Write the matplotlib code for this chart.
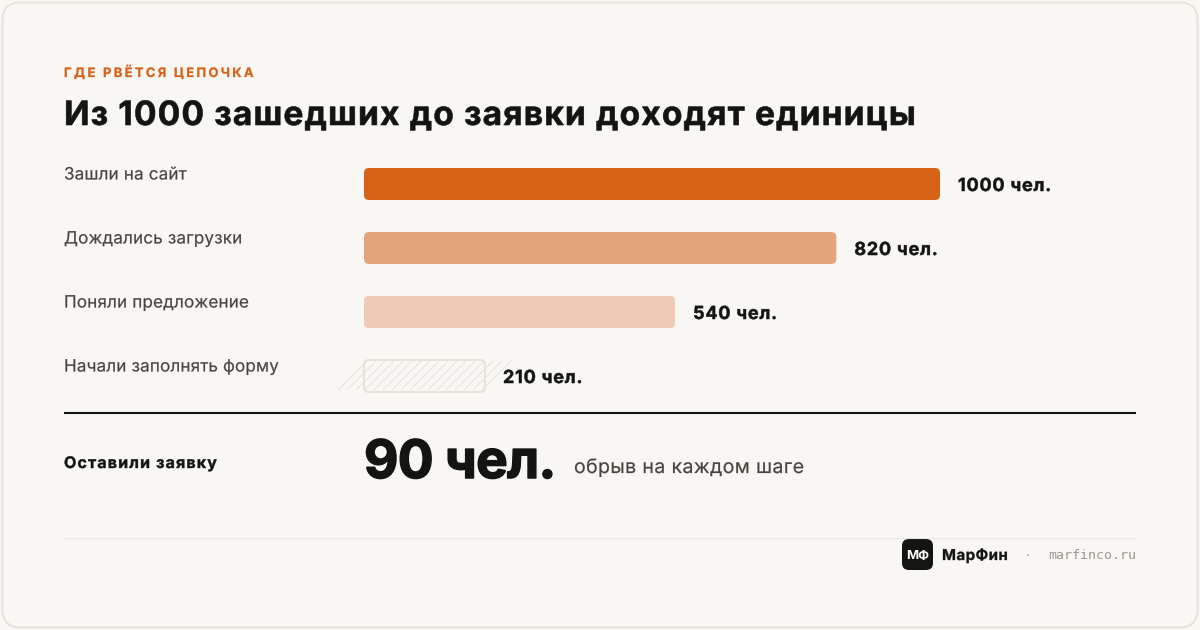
import matplotlib
matplotlib.use("Agg")
import matplotlib.pyplot as plt
from matplotlib.patches import FancyBboxPatch
from matplotlib.text import Text
from matplotlib.textpath import TextPath
from matplotlib.transforms import Affine2D, Bbox
from matplotlib.font_manager import findfont, get_font
from matplotlib.ft2font import LoadFlags

stages = ["Зашли на сайт", "Дождались загрузки", "Поняли предложение", "Начали заполнять форму"]
values = [1000, 820, 540, 210]
unit = "чел."
final_label = "Оставили заявку"
final_value = 90
final_note = "обрыв на каждом шаге"
eyebrow = "ГДЕ РВЁТСЯ ЦЕПОЧКА"
title = "Из 1000 зашедших до заявки доходят единицы"
brand_mark, brand, site = "МФ", "МарФин", "marfinco.ru"

BG, BORDER = "#F9F7F3", "#E6E4D8"
INK, MUTED = "#141410", "#45443E"
ORANGE = "#D66218"
bar_colors = ["#D66218", "#E5A57C", "#EFCBB6", "none"]
FONT = "Inter"
W, H = 1200, 630


class SpacedText(Text):
    """One text artist with tracking (px) and optional emboldening (px)."""
    tracking = 0.0
    embolden = 0.0

    def _advances(self, dpi):
        fp = self.get_fontproperties()
        font = get_font(findfont(fp))
        font.set_size(fp.get_size_in_points(), 72)
        out = []
        for ch in self.get_text():
            g = font.load_char(ord(ch), flags=LoadFlags.NO_HINTING)
            out.append(g.linearHoriAdvance / 65536 * dpi / 72 + self.tracking)
        return out

    def draw(self, renderer):
        fp = self.get_fontproperties()
        dpi = self.figure.dpi
        gc = renderer.new_gc()
        gc.set_foreground(self.get_color())
        gc.set_antialiased(True)
        gc.set_snap(False)
        gc.set_linewidth(self.embolden * 72 / dpi)
        gc.set_joinstyle("round")
        x, y = self.get_transform().transform(self.get_position())
        rgb = matplotlib.colors.to_rgb(self.get_color())
        for ch, adv in zip(self.get_text(), self._advances(dpi)):
            if ch != " ":
                path = TextPath((0, 0), ch, prop=fp)
                tr = Affine2D().scale(dpi / 72).translate(x, y)
                renderer.draw_path(gc, path, tr, rgb)
            x += adv
        gc.restore()

    def get_window_extent(self, renderer=None, dpi=None):
        bb = super().get_window_extent(renderer, dpi)
        x0 = self.get_transform().transform(self.get_position())[0]
        return Bbox.from_extents(x0, bb.y0, x0 + sum(self._advances(self.figure.dpi)), bb.y1)


fig = plt.figure(figsize=(W / 100, H / 100), dpi=100, facecolor=BG)
pg = fig.add_axes([0, 0, 1, 1])
pg.set_xlim(0, W)
pg.set_ylim(H, 0)
pg.axis("off")

pg.add_patch(FancyBboxPatch((2.5, 2.5), W - 5, H - 5, boxstyle="round,pad=0,rounding_size=18",
                            fc=BG, ec=BORDER, lw=1.5))


def S(x, base, s, size, weight="normal", color=INK, track=0.0, bold=0.0):
    t = SpacedText(x, base, s, fontsize=size * 0.72, fontweight=weight, color=color,
                   family=FONT, transform=pg.transData, va="baseline", zorder=5)
    t.tracking, t.embolden = track, bold
    pg.add_artist(t)
    return t


def T(x, y, s, size, weight="normal", color=INK, ha="left", family=FONT):
    return pg.text(x, y, s, fontsize=size * 0.72, fontweight=weight, color=color, ha=ha,
                   va="center_baseline", family=family, zorder=5)


S(64, 77, eyebrow, 13, "bold", ORANGE, track=2.3, bold=0.3)
S(64, 125, title, 33.5, "bold", track=1.17, bold=0.6)

# bars in their own axes: 1 x-unit = 0.576 px, 1 row = 64 px
left, right = 365, 365 + 576
top, bottom = 152, 152 + 64 * 4
ax = fig.add_axes([left / W, 1 - bottom / H, (right - left) / W, (bottom - top) / H])
ax.set_xlim(0, 1000)
ax.set_ylim(len(values) - 0.5, -0.5)
ax.axis("off")
ax.patch.set_alpha(0)
px_x = 1000 / 576
aspect = (1 / 64) * 576 / 1000
bar_h = 32 / 64
for i, (lab, v, c) in enumerate(zip(stages, values, bar_colors)):
    hollow = c == "none"
    ax.add_patch(FancyBboxPatch((-1 * px_x, i - bar_h / 2), v, bar_h,
                                boxstyle=f"round,pad=0,rounding_size={5 * px_x}",
                                mutation_aspect=aspect, fc="none" if hollow else c,
                                ec=BORDER if hollow else "none", lw=1.5 if hollow else 0,
                                clip_on=False, zorder=3))
    S(64, 179.5 + 64 * i, lab, 17, color=MUTED, track=0.2, bold=0.2)
    S(364 + v * 0.576 + 18, 191 + 64 * i, f"{v} {unit}", 18, "bold", track=0.8, bold=0.5)
    if hollow:
        for off in range(0, 150, 9):
            pg.plot([338 + off, 338 + off + 29], [390, 361], color="#E9E7DD", lw=0.9,
                    solid_capstyle="butt", zorder=2)

pg.plot([64, 1136], [413, 413], color=INK, lw=1.5, solid_capstyle="butt")
S(64, 468, final_label, 16, "bold", track=1.15, bold=0.4)
S(364, 478, f"{final_value} {unit}", 53, "bold", track=-0.6, bold=1.5)
S(574, 473, final_note, 19.5, color=MUTED, track=0.4, bold=0.2)

pg.plot([64, 1136], [538, 538], color="#E9E7DF", lw=0.8, solid_capstyle="butt")
pg.add_patch(FancyBboxPatch((902, 539), 31, 31, boxstyle="round,pad=0,rounding_size=7",
                            fc=INK, ec="none"))
T(917.5, 554.5, brand_mark, 13, "bold", "white", ha="center")
S(942, 560, brand, 15, "bold", track=0.5, bold=0.3)
T(1028, 556, "·", 13, color="#9A9990", ha="center")
T(1136, 554, site, 13.3, color="#9A9990", ha="right", family="DejaVu Sans Mono")

fig.savefig("out.png", dpi=100, facecolor=BG)
